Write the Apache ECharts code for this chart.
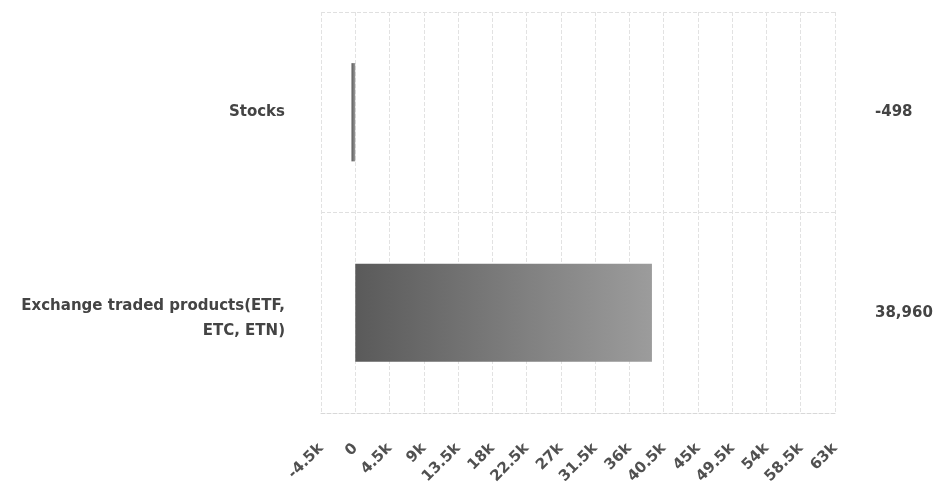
<!DOCTYPE html>
<html>
<head>
<meta charset="utf-8">
<script src="https://cdn.jsdelivr.net/npm/echarts@6/dist/echarts.min.js"></script>
<style>html,body{margin:0;padding:0;background:#fff}#c{width:941px;height:488px}</style>
</head>
<body>
<div id="c"></div>
<script>
const categories = ["Stocks", "Exchange traded products(ETF, ETC, ETN)"];
const values = [-498, 38960];
const axisMin = -4500, axisMax = 63000, axisStep = 4500;

const chart = echarts.init(document.getElementById('c'), null, {renderer: 'canvas'});
const fmtK = v => v === 0 ? '0' : (v / 1000) + 'k';
const fmtNum = v => v.toLocaleString('en-US');
const wrapCat = s => {
  const parts = s.split(', ETC');
  if (parts.length < 2) return '{a|' + s + '}';
  return '{s| }\n{a|' + parts[0] + ',}\n{a|ETC' + parts[1] + '}';
};

chart.setOption({
  animation: false,
  backgroundColor: '#fff',
  grid: {left: 321, right: 106, top: 12, bottom: 75, containLabel: false},
  xAxis: {
    type: 'value', min: axisMin, max: axisMax, interval: axisStep,
    axisLine: {show: true, lineStyle: {color: '#d8d8d8', type: 'dashed'}},
    axisTick: {show: false},
    splitLine: {show: true, lineStyle: {color: '#e2e2e2', type: 'dashed'}},
    axisLabel: {rotate: 45, formatter: fmtK, color: '#505050', fontFamily: 'DejaVu Sans', fontWeight: 'bold', fontSize: 15, margin: 33}
  },
  yAxis: [{
    type: 'category', data: categories, inverse: true,
    axisLine: {show: false}, axisTick: {show: false},
    splitLine: {show: true, lineStyle: {color: '#e0e0e0', type: 'dashed'}},
    axisLabel: {color: '#444', fontFamily: 'DejaVu Sans', fontWeight: 'bold', fontSize: 15, margin: 36,
      formatter: wrapCat, align: 'right',
      rich: {
        a: {color: '#444', fontFamily: 'DejaVu Sans', fontWeight: 'bold', fontSize: 15, lineHeight: 25, align: 'right'},
        s: {fontSize: 1, lineHeight: 12, align: 'right'}
      }}
  }, {
    type: 'category', data: values.map(fmtNum), inverse: true, position: 'right',
    axisLine: {show: false}, axisTick: {show: false}, splitLine: {show: false},
    axisLabel: {color: '#444', fontFamily: 'DejaVu Sans', fontWeight: 'bold', fontSize: 15, margin: 40, align: 'left'}
  }],
  series: [{
    type: 'bar', data: values, barWidth: '49%',
    itemStyle: {
      color: new echarts.graphic.LinearGradient(0, 0, 1, 0, [
        {offset: 0, color: '#5a5a5a'}, {offset: 1, color: '#9c9c9c'}
      ])
    }
  }]
});
</script>
</body>
</html>
